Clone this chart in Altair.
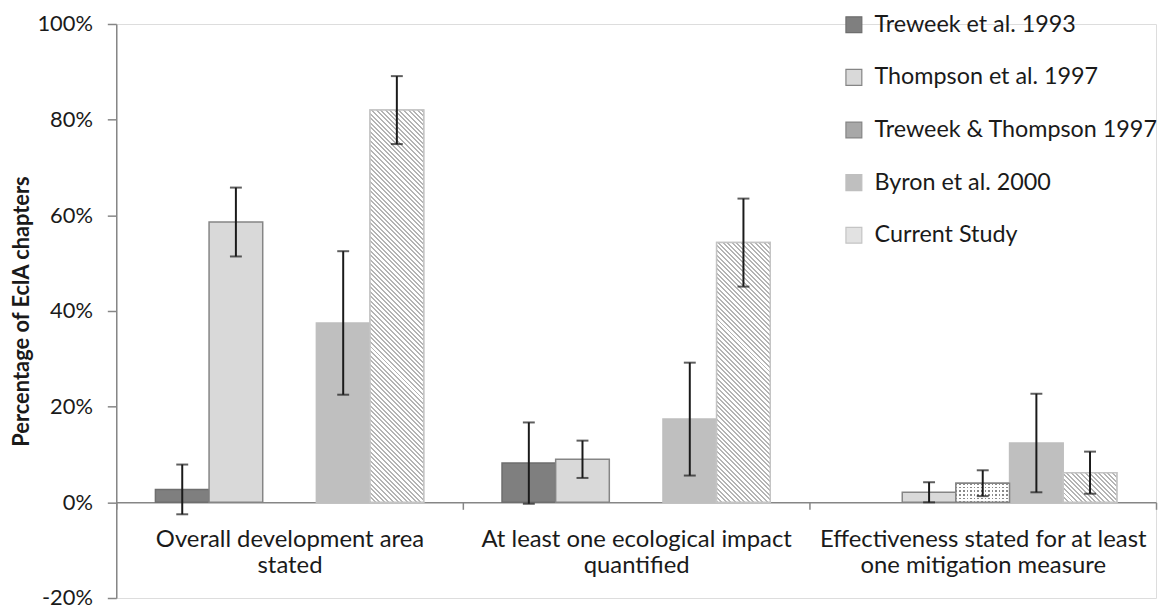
import altair as alt
import pandas as pd

# ---------------- data ----------------
groups = [
    "Overall development area|stated",
    "At least one ecological impact|quantified",
    "Effectiveness stated for at least|one mitigation measure",
]
series = [
    "Treweek et al. 1993",
    "Thompson et al. 1997",
    "Treweek & Thompson 1997",
    "Byron et al. 2000",
    "Current Study",
]

treweek_1993 = [2.7, 8.2, None]
treweek_1993_err = [5.2, 8.5, None]
thompson_1997 = [58.6, 9.0, 2.1]
thompson_1997_err = [7.2, 3.9, 2.1]
treweek_thompson_1997 = [None, None, 4.0]
treweek_thompson_1997_err = [None, None, 2.7]
byron_2000 = [37.5, 17.4, 12.4]
byron_2000_err = [15.0, 11.8, 10.3]
current_study = [82.0, 54.3, 6.2]
current_study_err = [7.1, 9.2, 4.4]

y_ticks = [-20, 0, 20, 40, 60, 80, 100]

vals = [treweek_1993, thompson_1997, treweek_thompson_1997, byron_2000, current_study]
errs = [treweek_1993_err, thompson_1997_err, treweek_thompson_1997_err,
        byron_2000_err, current_study_err]

rows = []
for s, v, e in zip(series, vals, errs):
    for g, vv, ee in zip(groups, v, e):
        if vv is not None:
            rows.append({"group": g, "series": s, "value": vv, "err": ee})
df = pd.DataFrame(rows)

# ---------------- layout / style ----------------
W, H = 1047, 578
PAD_OUT = 0.73
FONT = "Lato"
TXT = "#1a1a1a"
AX = "#868686"
fills = ["#7f7f7f", "#d9d9d9", "#a8a8a8", "#bfbfbf", "#e2e2e2"]
strokes = ["#6e6e6e", "#858585", "#858585", "#bfbfbf", "#c4c4c4"]

group_w = W / len(groups)
bar_w = group_w / (len(series) + 2 * PAD_OUT)
px_per_unit = H / (y_ticks[-1] - y_ticks[0])


def hatch_gradient(wpx, hpx, period=4.6, line=2.0, color="#b4b4b4"):
    L = wpx + hpx
    k = L / (wpx ** 2 + hpx ** 2)
    stops = []
    i = 0
    while i * period < L:
        a = i * period / L
        b = min((i * period + line) / L, 1)
        c = min((i + 1) * period / L, 1)
        stops += [{"offset": a, "color": color}, {"offset": b, "color": color},
                  {"offset": b, "color": "#ffffff"}, {"offset": c, "color": "#ffffff"}]
        i += 1
    return {"gradient": "linear", "x1": 0, "y1": 1, "x2": k * wpx, "y2": 1 - k * hpx,
            "stops": stops}


def stripe_gradient(length_px, horizontal, period=3.6, gap=1.6):
    clear = "rgba(255,255,255,0)"
    stops = []
    i = 0
    while i * period < length_px:
        a = i * period / length_px
        b = min((i * period + gap) / length_px, 1)
        c = min((i + 1) * period / length_px, 1)
        stops += [{"offset": a, "color": clear}, {"offset": b, "color": clear},
                  {"offset": b, "color": "#ffffff"}, {"offset": c, "color": "#ffffff"}]
        i += 1
    if horizontal:
        return {"gradient": "linear", "x1": 0, "y1": 0, "x2": 1, "y2": 0, "stops": stops}
    return {"gradient": "linear", "x1": 0, "y1": 0, "x2": 0, "y2": 1, "stops": stops}


x_enc = alt.X(
    "group:N", sort=groups, title=None,
    scale=alt.Scale(paddingInner=0, paddingOuter=0),
    axis=alt.Axis(
        orient="bottom", offset=-H * 20 / 120, labelExpr="split(datum.label, '|')",
        labelAngle=0, tickBand="extent", tickSize=7, tickColor=AX,
        domainColor=AX, domainWidth=1.5, tickWidth=1.5, labelLimit=0,
        labelFont=FONT, labelFontSize=24, labelColor=TXT, labelPadding=18,
        labelLineHeight=27, labelBaseline="top",
    ),
)
xo_enc = alt.XOffset(
    "series:N", sort=series,
    scale=alt.Scale(domain=series, paddingInner=0, paddingOuter=PAD_OUT),
)
y_scale = alt.Scale(domain=[y_ticks[0], y_ticks[-1]], nice=False, zero=False)
y_enc = alt.Y(
    "value:Q", scale=y_scale, title="Percentage of EclA chapters",
    axis=alt.Axis(
        values=y_ticks, labelExpr="datum.value + '%'", grid=False,
        tickSize=9, tickColor=AX, domainColor=AX, domainWidth=1.5,
        tickWidth=1.5, labelFont=FONT, labelFontSize=22, labelColor=TXT,
        labelPadding=15, titleFont=FONT, titleFontSize=22, titleFontWeight="bold",
        titleColor=TXT, titleX=-95, titleY=H / 2, titleAngle=270,
        titleBaseline="middle", titleAlign="center",
    ),
)

legend = alt.Legend(
    title=None, orient="none", legendX=731, legendY=-11, symbolType="square",
    symbolSize=256, symbolStrokeWidth=1.2, labelFont=FONT, labelFontSize=23.5,
    labelColor=TXT, rowPadding=28, labelOffset=9, labelLimit=400,
)

base = alt.Chart(df)

bars = base.mark_bar(strokeWidth=1.5).encode(
    x=x_enc, xOffset=xo_enc, y=y_enc,
    color=alt.Color("series:N", sort=series, scale=alt.Scale(domain=series, range=fills),
                    legend=legend),
    stroke=alt.Stroke("series:N", sort=series, scale=alt.Scale(domain=series, range=strokes),
                      legend=legend),
)

layers = [bars]

# hatched overlay for Current Study
for g, v in zip(groups, current_study):
    if v is None:
        continue
    grad = hatch_gradient(bar_w, v * px_per_unit)
    layers.append(
        base.transform_filter(
            (alt.datum.series == "Current Study") & (alt.datum.group == g)
        ).mark_bar(fill=grad, stroke="#c4c4c4", strokeWidth=1.5).encode(
            x=x_enc, xOffset=xo_enc, y=y_enc
        )
    )

# dotted overlay for Treweek & Thompson 1997
for g, v in zip(groups, treweek_thompson_1997):
    if v is None:
        continue
    filt = (alt.datum.series == "Treweek & Thompson 1997") & (alt.datum.group == g)
    layers.append(base.transform_filter(filt).mark_bar(fill="#8a8a8a", strokeWidth=0)
                  .encode(x=x_enc, xOffset=xo_enc, y=y_enc))
    layers.append(base.transform_filter(filt)
                  .mark_bar(fill=stripe_gradient(bar_w, True), strokeWidth=0)
                  .encode(x=x_enc, xOffset=xo_enc, y=y_enc))
    layers.append(base.transform_filter(filt)
                  .mark_bar(fill=stripe_gradient(v * px_per_unit, False), strokeWidth=0)
                  .encode(x=x_enc, xOffset=xo_enc, y=y_enc))
    layers.append(base.transform_filter(filt)
                  .mark_bar(fillOpacity=0, stroke="#858585", strokeWidth=1.5)
                  .encode(x=x_enc, xOffset=xo_enc, y=y_enc))

err_base = base.transform_calculate(
    lo="datum.value - datum.err", hi="datum.value + datum.err"
)
rules = err_base.mark_rule(color=TXT, strokeWidth=2).encode(
    x=x_enc, xOffset=xo_enc, y=alt.Y("lo:Q", scale=y_scale), y2="hi:Q"
)
cap_lo = err_base.mark_tick(color=TXT, size=12, thickness=2).encode(
    x=x_enc, xOffset=xo_enc, y=alt.Y("lo:Q", scale=y_scale)
)
cap_hi = err_base.mark_tick(color=TXT, size=12, thickness=2).encode(
    x=x_enc, xOffset=xo_enc, y=alt.Y("hi:Q", scale=y_scale)
)
layers += [rules, cap_lo, cap_hi]

chart = alt.layer(*layers).properties(
    width=W, height=H,
    autosize=alt.AutoSizeParams(type="none"),
    padding={"left": 109, "top": 14, "right": 4, "bottom": 13},
).configure_view(stroke=None).configure(background="white")

chart.save("out.html", embed_options={"renderer": "svg", "actions": False})
